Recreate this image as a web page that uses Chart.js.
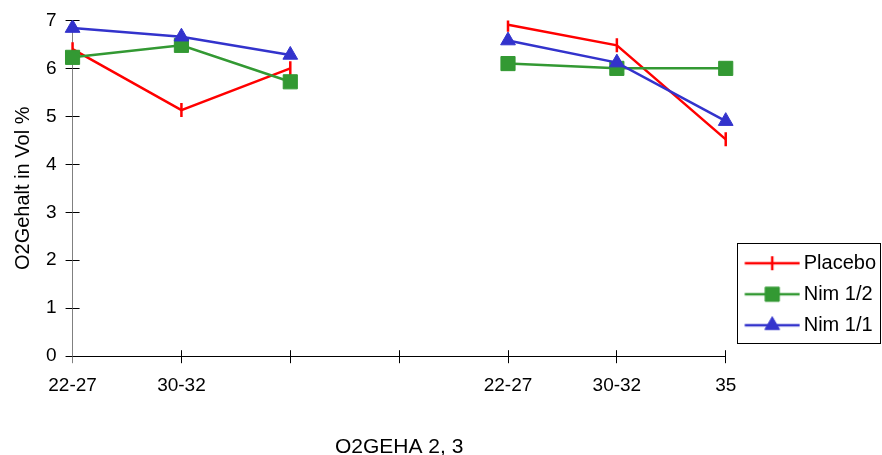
<!DOCTYPE html>
<html>
<head>
<meta charset="utf-8">
<title>O2-Gehalt</title>
<script src="https://cdn.jsdelivr.net/npm/chart.js@4/dist/chart.umd.min.js"></script>
<style>
  html, body { margin: 0; padding: 0; background: #fff; }
  #wrap { width: 882px; height: 455px; }
</style>
</head>
<body>
<div id="wrap"><canvas id="c" width="882" height="455"></canvas></div>
<script>
// Measurement groups along the x axis (index 3 is an empty separator slot)
const categories = ['22-27', '30-32', '', '', '22-27', '30-32', '35'];

// O2 content in Vol % per group
const placebo = [6.4, 5.13, 6.0, null, 6.91, 6.48, 4.52];
const nimHalf = [6.23, 6.48, 5.72, null, 6.1, 6.0, 6.0];
const nimFull = [6.84, 6.66, 6.28, null, 6.58, 6.12, 4.9];

const seriesNames = ['Placebo', 'Nim 1/2', 'Nim 1/1'];
const yTicks = [0, 1, 2, 3, 4, 5, 6, 7];

const RED = '#FF0000', GREEN = '#339933', BLUE = '#3333CC';
const FONT = "'Liberation Sans', Arial, Helvetica, sans-serif";

Chart.defaults.font.family = FONT;
Chart.defaults.color = '#000';

// Marker settings shared between the plotted series and their legend swatches
const markers = [
  { pointStyle: 'line', rotation: 90, radius: 7, borderWidth: 2.5, color: RED },
  { pointStyle: 'rect', rotation: 0, radius: 10, borderWidth: 1, color: GREEN },
  { pointStyle: 'triangle', rotation: 0, radius: 8.5, borderWidth: 1, color: BLUE }
];

// Legend swatch: a short line segment with the series marker in its middle.
// The canvas is wider than the reserved box so the segment sits a bit to the right.
const SWATCH_BOX = 57;
function swatch(m) {
  const cv = document.createElement('canvas');
  cv.width = 70; cv.height = 20;
  const g = cv.getContext('2d');
  g.strokeStyle = m.color; g.fillStyle = m.color;
  g.lineWidth = 2.5;
  g.beginPath(); g.moveTo(14.5, 10); g.lineTo(69.5, 10); g.stroke();
  g.lineWidth = m.borderWidth;
  Chart.helpers.drawPoint(g, { pointStyle: m.pointStyle, rotation: m.rotation, radius: m.radius, borderWidth: m.borderWidth }, 42, 10);
  return cv;
}
const swatches = markers.map(swatch);

function dataset(label, data, m, order) {
  return {
    label, data, order,
    borderColor: m.color,
    backgroundColor: m.color,
    borderWidth: 2.5,
    pointStyle: m.pointStyle,
    rotation: m.rotation,
    pointRadius: m.radius,
    pointHoverRadius: m.radius,
    pointBorderWidth: m.borderWidth,
    pointBorderColor: m.color,
    pointBackgroundColor: m.color,
    tension: 0,
    spanGaps: false
  };
}

// Tick marks that cross the axis lines: the inner halves are drawn here
const innerTicks = {
  id: 'innerTicks',
  beforeDatasetsDraw(chart) {
    const { ctx, chartArea, scales: { x, y } } = chart;
    const align = p => Math.round(p - 0.5) + 0.5;
    ctx.save();
    ctx.strokeStyle = '#000';
    ctx.lineWidth = 1;
    ctx.beginPath();
    x.ticks.forEach((t, i) => {
      if (i === 0) return;
      const px = align(x.getPixelForTick(i));
      ctx.moveTo(px, chartArea.bottom);
      ctx.lineTo(px, chartArea.bottom - 6);
    });
    y.ticks.forEach((t, i) => {
      const py = align(y.getPixelForTick(i));
      ctx.moveTo(chartArea.left, py);
      ctx.lineTo(chartArea.left + 7, py);
    });
    ctx.stroke();
    ctx.restore();
  }
};

// Lift the legend a little and frame it
const legendFrame = {
  id: 'legendFrame',
  afterLayout(chart) {
    const lg = chart.legend;
    lg.top -= 10;
    lg.bottom -= 10;
  },
  afterDraw(chart) {
    const lg = chart.legend;
    const pad = lg.options.labels.padding;
    const colH = lg.columnSizes[0].height;
    const left = Math.round(lg.left + pad) + 0.5;
    const top = Math.round(lg.bottom - colH - 10) + 0.5;
    const bottom = Math.round(lg.bottom - 3) + 0.5;
    const right = chart.width - 1.5;
    const ctx = chart.ctx;
    ctx.save();
    ctx.strokeStyle = '#000';
    ctx.lineWidth = 1;
    ctx.strokeRect(left, top, right - left, bottom - top);
    ctx.restore();
  }
};

new Chart(document.getElementById('c'), {
  type: 'line',
  data: {
    labels: categories,
    datasets: [
      dataset(seriesNames[0], placebo, markers[0], 3),
      dataset(seriesNames[1], nimHalf, markers[1], 2),
      dataset(seriesNames[2], nimFull, markers[2], 1)
    ]
  },
  options: {
    responsive: false,
    animation: false,
    events: [],
    layout: { padding: { top: 18, left: 0, bottom: 0, right: -4 } },
    scales: {
      x: {
        type: 'category',
        offset: false,
        grid: {
          display: true, drawOnChartArea: false, drawTicks: true, tickLength: 7,
          color: ctx => (ctx.index === 0 ? '#808080' : '#000')
        },
        border: { display: true, color: '#000', width: 1 },
        ticks: { autoSkip: false, maxRotation: 0, minRotation: 0, padding: 11, font: { size: 19 }, color: '#000' },
        title: { display: true, text: 'O2GEHA 2, 3', font: { size: 21, lineHeight: 1 }, padding: { top: 29, bottom: -3 }, color: '#000' }
      },
      y: {
        min: 0,
        max: 7,
        afterBuildTicks(scale) { scale.ticks = yTicks.map(v => ({ value: v })); },
        grid: { display: true, drawOnChartArea: false, drawTicks: true, tickLength: 7, color: '#000' },
        border: { display: true, color: '#808080', width: 1 },
        ticks: { padding: 9, font: { size: 19 }, color: '#000' },
        title: { display: true, text: 'O2Gehalt in Vol %', font: { size: 20, lineHeight: 1 }, padding: { top: 13, bottom: 4 }, color: '#000' }
      }
    },
    plugins: {
      tooltip: { enabled: false },
      legend: {
        display: true,
        position: 'right',
        align: 'end',
        fullSize: false,
        labels: {
          usePointStyle: true,
          pointStyleWidth: SWATCH_BOX,
          padding: 11,
          color: '#000',
          font: { size: 20 },
          sort: (a, b) => a.datasetIndex - b.datasetIndex,
          generateLabels(chart) {
            const items = Chart.defaults.plugins.legend.labels.generateLabels(chart);
            items.forEach(it => { it.pointStyle = swatches[it.datasetIndex]; it.rotation = 0; });
            return items;
          }
        }
      }
    }
  },
  plugins: [innerTicks, legendFrame]
});
</script>
</body>
</html>
